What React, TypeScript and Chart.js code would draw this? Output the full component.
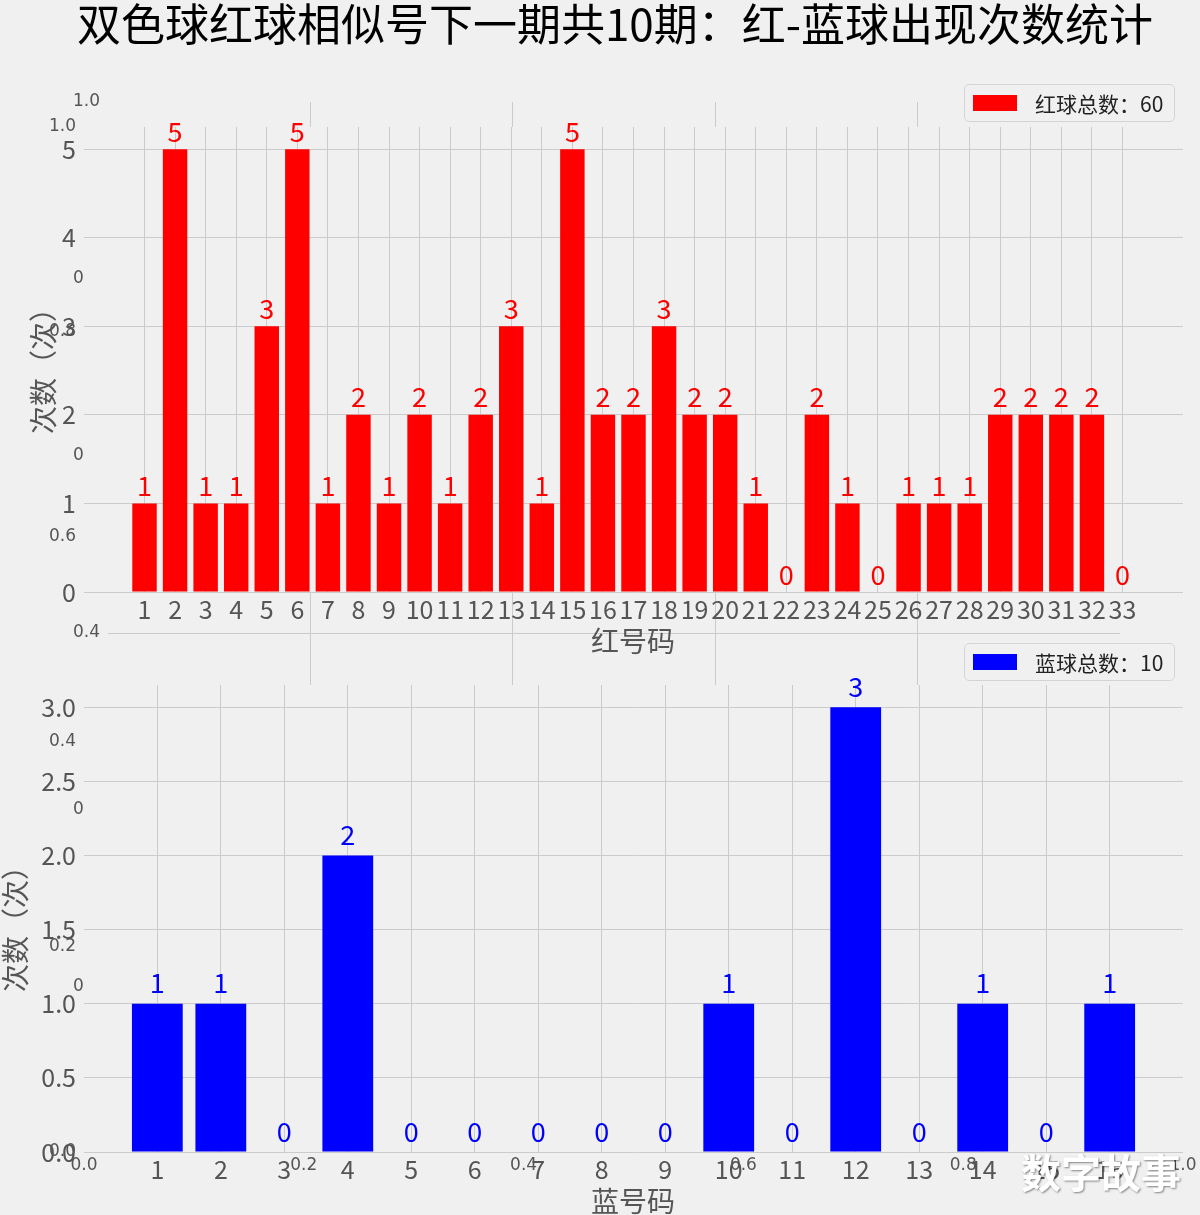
import React, { useEffect, useRef } from "react";
import { Chart, registerables } from "chart.js";

Chart.register(...registerables);

const W = 1200;
const H = 1215;
const FONT = "'Noto Sans CJK SC', 'Noto Sans', sans-serif";
const GHOST_FONT = "'DejaVu Sans', sans-serif";
const BG = "#f0f0f0";
const GRID = "#cbcbcb";
const TICK = "#555555";

// ---- data ----
const chartTitle = "双色球红球相似号下一期共10期：红-蓝球出现次数统计";
const redNumbers = [1, 2, 3, 4, 5, 6, 7, 8, 9, 10, 11, 12, 13, 14, 15, 16, 17, 18, 19, 20, 21, 22, 23, 24, 25, 26, 27, 28, 29, 30, 31, 32, 33];
const redCounts = [1, 5, 1, 1, 3, 5, 1, 2, 1, 2, 1, 2, 3, 1, 5, 2, 2, 3, 2, 2, 1, 0, 2, 1, 0, 1, 1, 1, 2, 2, 2, 2, 0];
const blueNumbers = [1, 2, 3, 4, 5, 6, 7, 8, 9, 10, 11, 12, 13, 14, 15, 16];
const blueCounts = [1, 1, 0, 2, 0, 0, 0, 0, 0, 1, 0, 3, 0, 1, 0, 1];
const redYTicks = [0, 1, 2, 3, 4, 5];
const blueYTicks = [0, 0.5, 1, 1.5, 2, 2.5, 3];
const ghostTicks = [0, 0.2, 0.4, 0.6, 0.8, 1];
const redAxisTitle = "红号码";
const blueAxisTitle = "蓝号码";
const yAxisTitle = "次数（次）";
const redLegendLabel = "红球总数";
const blueLegendLabel = "蓝球总数";
const watermark = "数字故事";

type Area = { left: number; top: number; right: number; bottom: number };

const areaGhostA: Area = { left: 108, top: 102, right: 1120, bottom: 987 };
const areaGhostB: Area = { left: 84, top: 127, right: 1183, bottom: 1152 };
const areaRed: Area = { left: 84, top: 127, right: 1183, bottom: 592 };
const areaBlue: Area = { left: 84, top: 685, right: 1183, bottom: 1152 };

const pad = (a: Area) => ({ left: 0, top: a.top, right: W - a.right, bottom: 0 });
const fixedTicks = (vals: number[]) => (s: any) => {
  s.ticks = vals.map((v) => ({ value: v }));
};
const fitX = (a: Area) => (s: any) => {
  s.height = H - a.bottom;
  s.paddingLeft = 0;
  s.paddingRight = 0;
  s.paddingTop = 0;
  s.paddingBottom = 0;
};
const fitY = (a: Area) => (s: any) => {
  s.width = a.left;
  s.paddingLeft = 0;
  s.paddingRight = 0;
  s.paddingTop = 0;
  s.paddingBottom = 0;
};

const areaFill = (color: string) => ({
  id: "areaFill",
  beforeDraw(chart: any) {
    const { ctx, chartArea: c } = chart;
    ctx.save();
    ctx.fillStyle = color;
    ctx.fillRect(c.left, c.top, c.right - c.left, c.bottom - c.top);
    ctx.restore();
  },
});

const valueLabels = (color: string, size: number) => ({
  id: "valueLabels",
  afterDatasetsDraw(chart: any) {
    const { ctx } = chart;
    const meta = chart.getDatasetMeta(0);
    const ds = chart.data.datasets[0];
    const ys = chart.scales.y;
    ctx.save();
    ctx.font = `${size}px ${FONT}`;
    ctx.fillStyle = color;
    ctx.textAlign = "center";
    ctx.textBaseline = "alphabetic";
    meta.data.forEach((bar: any, i: number) => {
      const v = ds.data[i].y;
      const y = ys.getPixelForValue(v + 0.05) - 3;
      ctx.fillText(String(v), bar.x, y);
    });
    ctx.restore();
  },
});

function ghostConfig(area: Area, showGrid: boolean): any {
  const gridColor = (c: any) =>
    !showGrid || !c.tick || c.tick.value === 0 || c.tick.value === 1 ? "rgba(0,0,0,0)" : GRID;
  const axis = (isX: boolean) => ({
    type: "linear",
    min: 0,
    max: 1,
    afterBuildTicks: fixedTicks(ghostTicks),
    afterFit: isX ? fitX(area) : fitY(area),
    grid: { color: gridColor, drawTicks: false, lineWidth: 1 },
    border: { display: false },
    ticks: {
      autoSkip: false,
      maxRotation: 0,
      minRotation: 0,
      font: { family: GHOST_FONT, size: 17 },
      color: TICK,
      padding: isX ? 3 : 8,
      callback: (v: number) => Number(v).toFixed(1),
    },
  });
  return {
    type: "scatter",
    data: { datasets: [] },
    options: {
      responsive: false,
      animation: false,
      events: [],
      layout: { padding: pad(area) },
      plugins: { legend: { display: false }, tooltip: { enabled: false } },
      scales: { x: axis(true), y: axis(false) },
    },
    plugins: [areaFill(BG)],
  };
}

function barConfig(
  area: Area,
  cats: number[],
  vals: number[],
  color: string,
  xMin: number,
  xMax: number,
  yMax: number,
  yTicks: number[],
  yFmt: (v: number) => string
): any {
  return {
    type: "bar",
    data: {
      datasets: [
        {
          data: cats.map((c, i) => ({ x: c, y: vals[i] })),
          backgroundColor: color,
          borderWidth: 0,
          barPercentage: 0.8,
          categoryPercentage: 1,
        },
      ],
    },
    options: {
      responsive: false,
      animation: false,
      events: [],
      layout: { padding: pad(area) },
      plugins: { legend: { display: false }, tooltip: { enabled: false } },
      scales: {
        x: {
          type: "linear",
          offset: false,
          min: xMin,
          max: xMax,
          afterBuildTicks: fixedTicks(cats),
          afterFit: fitX(area),
          grid: { color: GRID, drawTicks: false, offset: false, lineWidth: 1 },
          border: { display: false },
          ticks: {
            autoSkip: false,
            maxRotation: 0,
            minRotation: 0,
            font: { family: FONT, size: 25 },
            color: TICK,
            padding: 2,
            callback: (v: number) => String(v),
          },
        },
        y: {
          type: "linear",
          min: 0,
          max: yMax,
          afterBuildTicks: fixedTicks(yTicks),
          afterFit: fitY(area),
          grid: { color: GRID, drawTicks: false, lineWidth: 1 },
          border: { display: false },
          ticks: {
            autoSkip: false,
            font: { family: FONT, size: 25 },
            color: TICK,
            padding: 8,
            callback: (v: number) => yFmt(Number(v)),
          },
        },
      },
    },
    plugins: [areaFill(BG), valueLabels(color, 27)],
  };
}

const sum = (a: number[]) => a.reduce((s, v) => s + v, 0);

function Txt(props: { x: number; y: number; size: number; color: string; rotate?: boolean; bold?: boolean; shadow?: string; children: React.ReactNode }) {
  const { x, y, size, color, rotate, bold, shadow, children } = props;
  return (
    <div
      style={{
        position: "absolute",
        left: x,
        top: y,
        transform: `translate(-50%, -50%)${rotate ? " rotate(-90deg)" : ""}`,
        fontFamily: FONT,
        fontSize: size,
        lineHeight: 1,
        color,
        fontWeight: bold ? 700 : 400,
        whiteSpace: "nowrap",
        textShadow: shadow,
      }}
    >
      {children}
    </div>
  );
}

function Legend(props: { top: number; color: string; label: string }) {
  return (
    <div
      style={{
        position: "absolute",
        left: 964,
        top: props.top,
        width: 211,
        height: 38,
        boxSizing: "border-box",
        border: "1px solid #d4d4d4",
        borderRadius: 5,
        background: BG,
      }}
    >
      <div style={{ position: "absolute", left: 8, top: 10, width: 44, height: 16, background: props.color }} />
      <div
        style={{
          position: "absolute",
          left: 70,
          top: 0,
          height: 36,
          lineHeight: "36px",
          fontSize: 21,
          fontFamily: FONT,
          color: "#222",
          whiteSpace: "nowrap",
        }}
      >
        {props.label}
      </div>
    </div>
  );
}

export default function App() {
  const refB = useRef<HTMLCanvasElement>(null);
  const refA = useRef<HTMLCanvasElement>(null);
  const refRed = useRef<HTMLCanvasElement>(null);
  const refBlue = useRef<HTMLCanvasElement>(null);

  useEffect(() => {
    const charts: Chart[] = [];
    charts.push(new Chart(refB.current as HTMLCanvasElement, ghostConfig(areaGhostB, false)));
    charts.push(new Chart(refA.current as HTMLCanvasElement, ghostConfig(areaGhostA, true)));
    charts.push(
      new Chart(
        refRed.current as HTMLCanvasElement,
        barConfig(areaRed, redNumbers, redCounts, "#ff0000", -0.98, 34.98, 5.25, redYTicks, (v) => String(v))
      )
    );
    charts.push(
      new Chart(
        refBlue.current as HTMLCanvasElement,
        barConfig(areaBlue, blueNumbers, blueCounts, "#0000ff", -0.155, 17.155, 3.15, blueYTicks, (v) => v.toFixed(1))
      )
    );
    return () => charts.forEach((c) => c.destroy());
  }, []);

  const cv: React.CSSProperties = { position: "absolute", left: 0, top: 0, width: W, height: H };

  return (
    <div style={{ position: "absolute", left: 0, top: 0, width: W, height: H, background: BG, overflow: "hidden" }}>
      <canvas ref={refB} width={W} height={H} style={cv} />
      <canvas ref={refA} width={W} height={H} style={cv} />
      <canvas ref={refRed} width={W} height={H} style={cv} />
      <canvas ref={refBlue} width={W} height={H} style={cv} />
      <Txt x={615} y={22} size={44} color="#000">
        {chartTitle}
      </Txt>
      <Txt x={633} y={640} size={28} color={TICK}>
        {redAxisTitle}
      </Txt>
      <Txt x={633} y={1200} size={28} color={TICK}>
        {blueAxisTitle}
      </Txt>
      <Txt x={42} y={364} size={28} color={TICK} rotate>
        {yAxisTitle}
      </Txt>
      <Txt x={14} y={922} size={28} color={TICK} rotate>
        {yAxisTitle}
      </Txt>
      <Legend top={84} color="#ff0000" label={`${redLegendLabel}：${sum(redCounts)}`} />
      <Legend top={643} color="#0000ff" label={`${blueLegendLabel}：${sum(blueCounts)}`} />
      <Txt x={1101} y={1171} size={40} color="#ffffff" bold shadow="1px 1px 2px rgba(0,0,0,0.45)">
        {watermark}
      </Txt>
    </div>
  );
}
